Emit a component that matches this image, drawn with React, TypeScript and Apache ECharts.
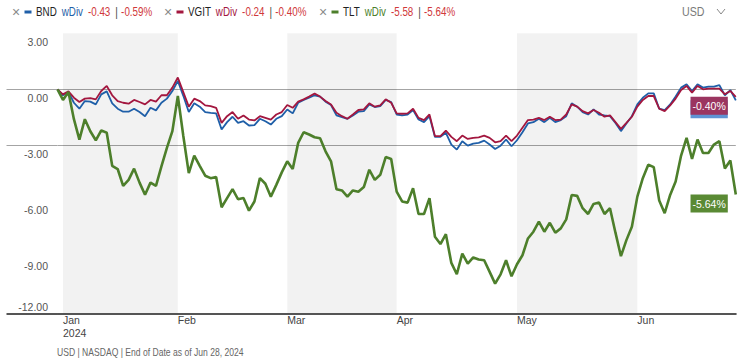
import React, { useEffect, useRef } from "react";
import * as echarts from "echarts";

const FAMILY = "Liberation Sans";
const NARROW = 0.82; // horizontal squeeze to mimic a condensed face

// Trading days (base day Dec 29, 2023, then 2024)
const dec2023Days = [29];
const janDays = [2, 3, 4, 5, 8, 9, 10, 11, 12, 16, 17, 18, 19, 22, 23, 24, 25, 26, 29, 30, 31];
const febDays = [1, 2, 5, 6, 7, 8, 9, 12, 13, 14, 15, 16, 20, 21, 22, 23, 26, 27, 28, 29];
const marDays = [1, 4, 5, 6, 7, 8, 11, 12, 13, 14, 15, 18, 19, 20, 21, 22, 25, 26, 27, 28];
const aprDays = [1, 2, 3, 4, 5, 8, 9, 10, 11, 12, 15, 16, 17, 18, 19, 22, 23, 24, 25, 26, 29, 30];
const mayDays = [1, 2, 3, 6, 7, 8, 9, 10, 13, 14, 15, 16, 17, 20, 21, 22, 23, 24, 28, 29, 30, 31];
const junDays = [3, 4, 5, 6, 7, 10, 11, 12, 13, 14, 17, 18, 20, 21, 24, 25, 26, 27, 28];

const monthNames = ["Jan", "Feb", "Mar", "Apr", "May", "Jun", "Jul", "Aug", "Sep", "Oct", "Nov", "Dec"];
const shadedMonths = ["01", "03", "05"];

// Cumulative total return, %
const bnd = [
  0, -0.32, -0.14, -0.72, -1.04, -0.63, -0.66, -0.81, -0.27, -0.11,
  -0.75, -1.04, -1.2, -1.2, -1.04, -1.22, -1.44, -0.99, -1.13, -0.72,
  -0.5, -0.09, 0.45, -0.35, -1.22, -0.75, -0.93, -1.22, -1.26, -1.29,
  -2.15, -1.76, -1.47, -1.8, -1.71, -1.94, -1.92, -1.58, -1.71, -1.89,
  -1.58, -1.44, -1.08, -1.29, -0.72, -0.57, -0.45, -0.32, -0.39, -0.66,
  -0.84, -1.4, -1.49, -1.58, -1.4, -1.2, -1.17, -0.81, -0.95, -0.9,
  -0.57, -0.68, -1.35, -1.4, -1.36, -1.11, -1.62, -1.76, -1.44, -2.55,
  -2.55, -2.33, -2.96, -3.23, -2.78, -3.02, -2.91, -2.87, -2.75, -2.96,
  -3.2, -3.02, -2.69, -3.05, -2.73, -2.3, -1.83, -1.76, -1.58, -1.76,
  -1.53, -1.76, -1.65, -1.44, -0.75, -0.93, -1.22, -1.35, -1.08, -1.35,
  -1.4, -1.44, -1.8, -2.24, -1.83, -1.44, -0.81, -0.45, -0.22, -0.22,
  -1.04, -1.11, -0.81, -0.39, 0.09, 0.27, -0.09, 0.27, 0.09, 0.14,
  0.14, 0.22, -0.32, -0.04, -0.59,
];
const vgit = [
  0, -0.27, -0.11, -0.45, -0.68, -0.5, -0.47, -0.54, -0.09, 0.18,
  -0.32, -0.63, -0.72, -0.77, -0.57, -0.68, -0.81, -0.57, -0.66, -0.32,
  -0.32, 0.09, 0.63, -0.15, -0.93, -0.5, -0.63, -0.86, -0.9, -0.99,
  -1.8, -1.44, -1.22, -1.58, -1.4, -1.62, -1.67, -1.44, -1.53, -1.62,
  -1.35, -1.22, -0.84, -0.99, -0.66, -0.54, -0.39, -0.23, -0.39, -0.63,
  -0.81, -1.26, -1.44, -1.58, -1.35, -1.11, -1.08, -0.75, -0.93, -0.86,
  -0.54, -0.72, -1.29, -1.31, -1.29, -1.04, -1.53, -1.65, -1.35, -2.51,
  -2.51, -2.21, -2.55, -2.78, -2.48, -2.66, -2.6, -2.57, -2.48, -2.6,
  -2.84, -2.78, -2.48, -2.78, -2.48, -2.06, -1.65, -1.62, -1.53, -1.65,
  -1.47, -1.65, -1.62, -1.35, -0.81, -0.93, -1.17, -1.29, -1.11, -1.26,
  -1.47, -1.4, -1.76, -2.12, -1.8, -1.47, -0.93, -0.57, -0.36, -0.36,
  -1.04, -1.17, -0.86, -0.5, -0.04, 0.18, -0.18, 0.18, 0, 0.04,
  0.04, 0.04, -0.27, -0.09, -0.4,
];
const tlt = [
  0, -0.57, -0.14, -1.6, -2.7, -1.6, -2.25, -2.73, -2.2, -2.33,
  -4.1, -4.27, -5.17, -4.85, -4.25, -5.0, -5.65, -5.0, -5.17, -4.13,
  -3.14, -2.24, -0.36, -2.5, -4.49, -3.55, -4.1, -4.63, -4.76, -4.7,
  -6.32, -5.83, -5.35, -5.89, -5.82, -6.5, -6.01, -4.76, -5.06, -5.75,
  -5.12, -4.45, -3.86, -4.27, -2.87, -2.3, -2.42, -2.57, -2.62, -3.32,
  -3.86, -5.35, -5.42, -5.75, -5.42, -5.49, -5.24, -4.31, -4.85, -4.58,
  -3.63, -3.73, -5.48, -6.01, -6.07, -5.3, -6.68, -6.68, -5.83, -7.9,
  -8.29, -7.76, -9.3, -9.91, -8.8, -9.34, -9.01, -9.12, -9.16, -9.78,
  -10.41, -9.91, -9.16, -10.02, -9.37, -8.89, -7.99, -7.63, -7.09, -7.63,
  -7.15, -7.68, -7.45, -6.97, -5.66, -5.71, -6.37, -6.68, -6.14, -6.07,
  -6.68, -6.37, -7.68, -8.94, -8.08, -7.36, -5.75, -4.76, -4.04, -4.17,
  -5.96, -6.64, -5.66, -4.94, -3.55, -2.6, -3.73, -2.69, -3.41, -3.41,
  -2.96, -2.78, -4.24, -3.81, -5.64,
];

const tickers = ["BND", "VGIT", "TLT"];
const divReturns = ["-0.43", "-0.24", "-5.58"];
const totalReturns = ["-0.59%", "-0.40%", "-5.64%"];
const seriesColors = ["#1f5fa8", "#a3173f", "#4d7f2b"];
const labelColors = ["#5f93d3", "#9b3560", "#5a8a34"];
const lineWidths = [1.8, 1.8, 2.6];
const yMin = -12;
const yMax = 3;
const yStep = 3;
const extendedGridValues = [0, -3];
const footnote = "USD | NASDAQ | End of Date as of Jun 28, 2024";
const currency = "USD";

const pad = (n: number) => (n < 10 ? "0" + n : "" + n);
const dates: string[] = [
  ...dec2023Days.map((d) => `2023-12-${pad(d)}`),
  ...janDays.map((d) => `2024-01-${pad(d)}`),
  ...febDays.map((d) => `2024-02-${pad(d)}`),
  ...marDays.map((d) => `2024-03-${pad(d)}`),
  ...aprDays.map((d) => `2024-04-${pad(d)}`),
  ...mayDays.map((d) => `2024-05-${pad(d)}`),
  ...junDays.map((d) => `2024-06-${pad(d)}`),
];

const isFirstOfMonth = (i: number) =>
  i > 0 && dates[i].slice(0, 7) !== dates[i - 1].slice(0, 7);
const isFirstOfYear = (i: number) =>
  i > 0 && dates[i].slice(0, 4) !== dates[i - 1].slice(0, 4);

const firstOf = (ym: string) => dates.find((d) => d.slice(0, 7) === ym) as string;

export default function App() {
  const ref = useRef<HTMLDivElement>(null);

  useEffect(() => {
    if (!ref.current) return;
    const chart = echarts.init(ref.current, undefined, { renderer: "svg" });

    const shadeData = shadedMonths.map((m) => {
      const next = pad(Number(m) + 1);
      return [{ xAxis: firstOf(`2024-${m}`) }, { xAxis: firstOf(`2024-${next}`) }];
    });

    const seriesData = [bnd, vgit, tlt];

    const series: any[] = seriesData.map((data, k) => ({
      name: tickers[k],
      type: "line",
      data,
      symbol: "none",
      xAxisIndex: 0,
      yAxisIndex: 0,
      lineStyle: { color: seriesColors[k], width: lineWidths[k] },
      itemStyle: { color: seriesColors[k] },
      endLabel: {
        show: true,
        formatter: (p: any) => `${Number(p.value).toFixed(2)}%`,
        color: "#fff",
        backgroundColor: labelColors[k],
        fontSize: 10.5,
        fontFamily: FAMILY,
        lineHeight: 13,
        padding: [3, 2, 2, 2],
        align: "right",
        verticalAlign: "top",
        offset: [-8, 0],
        distance: 0,
      },
      markArea:
        k === 0
          ? {
              silent: true,
              itemStyle: { color: "rgba(0,0,0,0.05)" },
              data: shadeData,
            }
          : undefined,
    }));

    const graphic: any[] = [];
    const legendX = [12, 164, 319];
    tickers.forEach((t, k) => {
      const x0 = legendX[k];
      graphic.push({
        type: "text",
        x: x0,
        y: 12,
        style: { text: "×", fill: "#8a8a8a", fontSize: 14, fontFamily: FAMILY, verticalAlign: "middle" },
      });
      graphic.push({
        type: "rect",
        x: x0 + 12.5,
        y: 10.5,
        shape: { x: 0, y: 0, width: 7, height: 3 },
        style: { fill: seriesColors[k] },
      });
      graphic.push({
        type: "text",
        x: x0 + 24,
        y: 12,
        scaleX: NARROW,
        style: {
          text: `{n|${t}}{w|wDiv}{v|${divReturns[k]}}{s||}{p|${totalReturns[k]}}`,
          fontSize: 12,
          fontFamily: FAMILY,
          verticalAlign: "middle",
          rich: {
            n: { fill: "#222", fontSize: 12, fontFamily: FAMILY, padding: [0, 6, 0, 0] },
            w: { fill: seriesColors[k], fontSize: 12, fontFamily: FAMILY, padding: [0, 6, 0, 0] },
            v: { fill: "#d0383a", fontSize: 12, fontFamily: FAMILY, padding: [0, 6, 0, 0] },
            s: { fill: "#444", fontSize: 12, fontFamily: FAMILY, padding: [0, 4, 0, 0] },
            p: { fill: "#d0383a", fontSize: 12, fontFamily: FAMILY },
          },
        },
      });
    });
    graphic.push({
      type: "text",
      x: 682,
      y: 12,
      scaleX: NARROW,
      style: { text: currency, fill: "#7a7a7a", fontSize: 13, fontFamily: FAMILY, verticalAlign: "middle" },
    });
    graphic.push({
      type: "polyline",
      shape: { points: [[717, 9], [721, 14], [725, 9]] },
      style: { stroke: "#888", lineWidth: 1, fill: null },
    });
    graphic.push({
      type: "text",
      x: 57,
      y: 352,
      scaleX: 0.78,
      style: { text: footnote, fill: "#666", fontSize: 11, fontFamily: FAMILY, verticalAlign: "middle" },
    });

    const xLabelBase = {
      align: "left",
      verticalAlign: "top",
      margin: 1,
      color: "#444",
      fontSize: 10.5,
      fontFamily: FAMILY,
      hideOverlap: false,
    };

    const option: any = {
      animation: false,
      textStyle: { fontFamily: FAMILY },
      grid: { left: 57.5, right: 4.2, top: 33.3, bottom: 49.7 },
      xAxis: [
        {
          type: "category",
          data: dates,
          boundaryGap: false,
          axisLine: { onZero: false, lineStyle: { color: "#555", width: 2 } },
          axisTick: { show: false },
          splitLine: { show: false },
          axisLabel: {
            ...xLabelBase,
            interval: (i: number) => isFirstOfMonth(i),
            formatter: (v: string) => monthNames[Number(v.slice(5, 7)) - 1],
          },
        },
        {
          type: "category",
          data: dates,
          boundaryGap: false,
          position: "bottom",
          offset: 13,
          axisLine: { show: false },
          axisTick: { show: false },
          splitLine: { show: false },
          axisLabel: {
            ...xLabelBase,
            interval: (i: number) => isFirstOfYear(i),
            formatter: (v: string) => v.slice(0, 4),
          },
        },
      ],
      yAxis: [
        {
          type: "value",
          min: yMin,
          max: yMax,
          interval: yStep,
          axisLine: { show: false },
          splitLine: { lineStyle: { color: "#a4a4a4", width: 1 } },
          axisTick: { show: true, length: 51, customValues: extendedGridValues, lineStyle: { color: "#a4a4a4", width: 1 } },
          axisLabel: {
            formatter: (v: number) => (v === yMin ? "" : v.toFixed(2)),
            verticalAlign: "top",
            padding: [3, 0, 0, 0],
            margin: 9.5,
            color: "#555",
            fontSize: 10.5,
            fontFamily: FAMILY,
          },
        },
        {
          type: "value",
          min: yMin,
          max: yMax,
          interval: yStep,
          position: "left",
          axisLine: { show: false },
          splitLine: { show: false },
          axisTick: { show: true, length: 51, customValues: [yMin], lineStyle: { color: "#555", width: 2 } },
          axisLabel: {
            formatter: (v: number) => (v === yMin ? v.toFixed(2) : ""),
            verticalAlign: "bottom",
            padding: [0, 0, 1, 0],
            margin: 9.5,
            color: "#555",
            fontSize: 10.5,
            fontFamily: FAMILY,
          },
        },
      ],
      series,
      graphic,
    };

    chart.setOption(option);
    return () => chart.dispose();
  }, []);

  return (
    <div
      ref={ref}
      style={{ position: "fixed", left: 0, top: 0, width: 740, height: 363, background: "#fff" }}
    />
  );
}
